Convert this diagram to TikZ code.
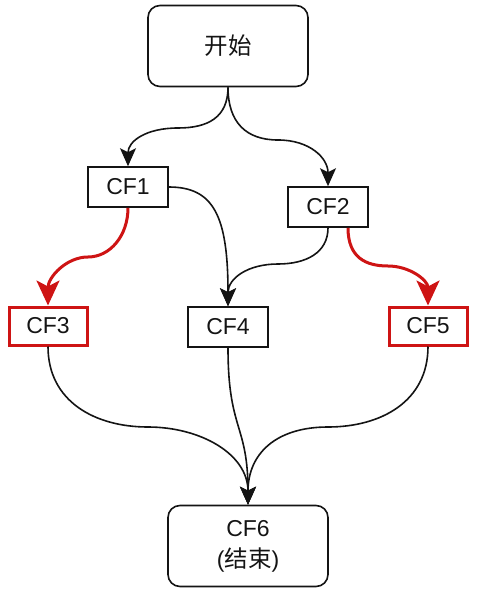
\documentclass[tikz,border=0pt]{standalone}
\usepackage{fontspec}
\setmainfont{Liberation Sans}
\newfontfamily\cjk{Noto Sans CJK SC}
\usetikzlibrary{arrows.meta}
\definecolor{myred}{RGB}{206,20,20}
\definecolor{myblack}{RGB}{20,20,20}
\begin{document}
\begin{tikzpicture}[x=1pt,y=-1pt,
  box/.style={draw=myblack,line width=1.6pt,minimum width=80pt,minimum height=40pt,inner sep=0pt,font=\fontsize{23}{27}\selectfont,text=myblack},
  redbox/.style={box,draw=myred,line width=3pt,minimum width=78pt,minimum height=38pt},
  bigbox/.style={draw=myblack,line width=1.6pt,rounded corners=12pt,minimum width=160pt,minimum height=81pt,inner sep=0pt,align=center,font=\fontsize{23}{31}\selectfont,text=myblack},
  conn/.style={draw=myblack,line width=1.6pt,-{Stealth[length=18pt,width=16pt,inset=4pt]}},
  redconn/.style={draw=myred,line width=3pt,-{Stealth[length=25pt,width=23pt,inset=6pt]}}]
\useasboundingbox (0,0) rectangle (486,604);
\node[bigbox] (s) at (228,46) {\cjk\fontsize{23.5}{31}\selectfont 开始};
\node[box] (c1) at (128,187) {CF1};
\node[box] (c2) at (328,207) {CF2};
\node[redbox] (c3) at (48,326) {CF3};
\node[box] (c4) at (228,327) {CF4};
\node[redbox] (c5) at (428,326) {CF5};
\node[bigbox] (c6) at (248,546) {CF6\\({\cjk\fontsize{23.5}{31}\selectfont 结束})};
\draw[conn] (s.south) .. controls +(0,30) and +(30,0) .. (178,128)
  .. controls +(-32,0) and +(0,-25) .. (c1.north);
\draw[conn] (s.south) .. controls +(0,35) and +(-32,0) .. (278,140)
  .. controls +(32,0) and +(0,-28) .. (c2.north);
\draw[conn] (c1.east) .. controls +(45,0) and +(0,-90) .. (c4.north);
\draw[conn] (c2.south) .. controls +(0,25) and +(28,0) .. (278,264)
  .. controls +(-30,0) and +(0,-28) .. (c4.north);
\draw[redconn] (c1.south) .. controls +(0,28) and +(22,0) .. (88,257)
  .. controls +(-22,0) and +(0,-28) .. (c3.north);
\draw[redconn] ([xshift=20pt]c2.south) .. controls +(0,30) and +(-22,0) .. (388,266)
  .. controls +(22,0) and +(0,-25) .. (c5.north);
\draw[conn] (c3.south) .. controls +(0,55) and +(-53,0) .. (148,427)
  .. controls +(52,0) and +(0,-51) .. (c6.north);
\draw[conn] (c5.south) .. controls +(0,55) and +(53,0) .. (328,427)
  .. controls +(-52,0) and +(0,-51) .. (c6.north);
\draw[conn] (c4.south) .. controls +(0,83) and +(0,-81) .. (c6.north);
\end{tikzpicture}
\end{document}
